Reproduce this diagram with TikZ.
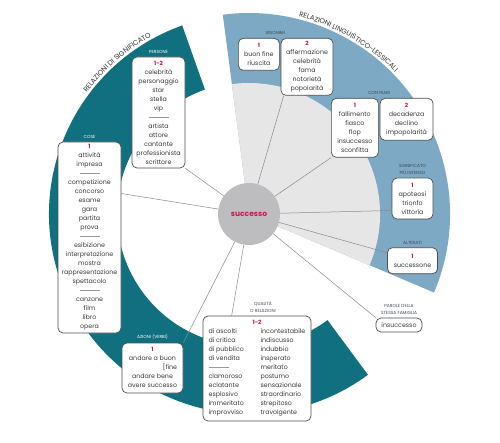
\documentclass[tikz,border=0pt]{standalone}
\usepackage{fontspec}
\setmainfont{Poppins}
\usepackage{xcolor}
\usepackage{tikz}
\usetikzlibrary{positioning,calc,backgrounds,decorations.text}

\definecolor{ringteal}{HTML}{11707F}
\definecolor{ringblue}{HTML}{7DA9C4}
\definecolor{wedgegray}{HTML}{E6E6E7}
\definecolor{hubgray}{HTML}{BDBDC0}
\definecolor{numred}{HTML}{C8194B}
\definecolor{inkgray}{HTML}{3A3A3A}
\definecolor{boxgray}{HTML}{4E4E4E}
\definecolor{lblink}{HTML}{3C4957}
\definecolor{linkgray}{HTML}{8A8A8A}
\definecolor{rulegray}{HTML}{9A9A9A}
\definecolor{titleink}{HTML}{333333}

\newcommand{\itemsize}{\fontsize{6.3}{9}\selectfont}
\newcommand{\lblsize}{\fontsize{4.4}{6.8}\selectfont}
\newcommand{\titlesize}{\fontsize{7}{8}\selectfont}
\newcommand{\nr}[1]{{\color{numred}\bfseries\fontsize{5.8}{9}\selectfont #1}}
\newcommand{\sepline}{\raisebox{2.2pt}{\color{rulegray}\rule{20pt}{0.4pt}}}

\begin{document}
\begin{tikzpicture}[
        x=1pt, y=1pt,
        box/.style={
            draw=boxgray,
            line width=0.7pt,
            rounded corners=5pt,
            fill=white,
            text=inkgray,
            font=\itemsize,
            align=center,
            inner sep=2pt
        },
        lbl/.style={font=\lblsize, text=lblink, align=center, inner sep=1pt},
        lblw/.style={lbl, text=white},
        link/.style={draw=linkgray, line width=0.5pt}
    ]

    \useasboundingbox (0,0) rectangle (500,442);
    \coordinate (c) at (249,228);

    % rings
    \begin{scope}[on background layer]
        \fill[white] (0,0) rectangle (500,442);
        \fill[ringblue] (c) -- ($(c)+(-23:201pt)$) arc[start angle=-23, end angle=97.5, radius=201pt] -- cycle;
        \fill[wedgegray] (c) -- ($(c)+(-23:131pt)$) arc[start angle=-23, end angle=97.5, radius=131pt] -- cycle;
        \fill[ringteal] ($(c)+(109.5:200pt)$) arc[start angle=109.5, end angle=306.5, radius=200pt]
            -- ($(c)+(306.5:132pt)$) arc[start angle=306.5, end angle=109.5, radius=132pt] -- cycle;
    \end{scope}

    \path[decorate, decoration={text along path, text align=center,
        text={|\titlesize\color{titleink}|RELAZIONI DI SIGNIFICATO}}]
        ($(c)+(162:202.5pt)$) arc[start angle=162, end angle=100, radius=202.5pt];
    \path[decorate, decoration={text along path, text align=center,
        text={|\titlesize\color{titleink}|RELAZIONI LINGUISTICO-LESSICALI}}]
        ($(c)+(91:203.5pt)$) arc[start angle=91, end angle=29, radius=203.5pt];

    \node[circle, fill=hubgray, minimum size=62pt, inner sep=0pt,
          font=\bfseries\fontsize{7.5}{9}\selectfont, text=numred] (succ) at (c) {successo};

    % relazioni di significato
    \node[box, minimum width=53pt, minimum height=111pt,
          label={[lblw, label distance=2pt]above:PERSONE}] (persone) at (158.5,329.5)
        {\nr{1-2}\\celebrità\\personaggio\\star\\stella\\vip\\\sepline\\artista\\attore\\cantante\\professionista\\scrittore};
    \node[box, minimum width=63pt, minimum height=191pt,
          label={[lblw, label distance=2pt]above:COSE}] (cose) at (89.5,204.5)
        {\nr{1}\\attività\\impresa\\\sepline\\competizione\\concorso\\esame\\gara\\partita\\prova\\\sepline\\esibizione\\interpretazione\\mostra\\rappresentazione\\spettacolo\\\sepline\\canzone\\film\\libro\\opera};
    \node[box, minimum width=61pt, minimum height=50pt,
          label={[lblw, label distance=2pt]above:AZIONI (VERBI)}] (azioni) at (152.5,74)
        {\begin{tabular}{@{}c@{}}\nr{1}\\andare a buon\\\multicolumn{1}{@{}r@{}}{[fine}\\andare bene\\avere successo\end{tabular}};
    \node[box, minimum width=108pt, minimum height=105pt,
          label={[lbl, label distance=2pt, xshift=6pt]above:QUALITÀ\\O RELAZIONI}] (qual) at (257,73.5)
        {\nr{1-2}\\\begin{tabular}[t]{@{}p{52pt}@{}l@{}}
            di ascolti & incontestabile\\
            di critica & indiscusso\\
            di pubblico & indubbio\\
            di vendita & insperato\\
            \sepline & meritato\\
            clamoroso & postumo\\
            eclatante & sensazionale\\
            esplosivo & straordinario\\
            immeritato & strepitoso\\
            improvviso & travolgente
        \end{tabular}};

    % relazioni linguistico-lessicali
    \node[box, minimum width=41pt, minimum height=32pt, anchor=north west] (sin1) at (238,404)
        {\nr{1}\\buon fine\\riuscita};
    \node[box, minimum width=52pt, minimum height=57pt, right=1pt of sin1.north east, anchor=north west] (sin2)
        {\nr{2}\\affermazione\\celebrità\\fama\\notorietà\\popolarità};
    \node[lbl, above=2.5pt of $(sin1.north east)!0.5!(sin2.north west)$, xshift=-5pt] (sinlbl) {SINONIMI};

    \node[box, minimum width=47pt, minimum height=59pt, anchor=north west] (con1) at (331,344)
        {\nr{1}\\fallimento\\fiasco\\flop\\insuccesso\\sconfitta};
    \node[box, minimum width=53pt, minimum height=42pt, right=1pt of con1.north east, anchor=north west] (con2)
        {\nr{2}\\decadenza\\declino\\impopolarità};
    \node[lbl, above=2.5pt of $(con1.north east)!0.5!(con2.north west)$] (conlbl) {CONTRARI};

    \node[box, minimum width=41pt, minimum height=41pt,
          label={[lbl, label distance=2pt]above:SIGNIFICATO\\PIÙ INTENSO}] (sig) at (412.5,243.5)
        {\nr{1}\\apoteosi\\trionfo\\vittoria};
    \node[box, minimum width=50pt, minimum height=26pt, below=28pt of sig,
          label={[lbl, label distance=2pt]above:ALTERATI}] (alt)
        {\nr{1}\\successone};
    \node[box, minimum width=46pt, minimum height=14pt,
          label={[lbl, label distance=2pt]above:PAROLE DELLA\\STESSA FAMIGLIA}] (par) at (399,117)
        {insuccesso};

    % connectors
    \begin{scope}[on background layer]
        \draw[link] (succ) -- (persone.south east);
        \draw[link] (succ) -- ([yshift=44pt]cose.east);
        \draw[link] (succ) -- (azioni.north east);
        \draw[link] (succ) -- ([xshift=29pt]qual.north west);
        \draw[link] (succ) -- ([xshift=3pt]sin2.south west);
        \draw[link] (succ) -- (con1.south west);
        \draw[link] (succ) -- ([yshift=-12pt]sig.west);
        \draw[link] (succ) -- ([yshift=8pt]alt.west);
        \draw[link] (succ) -- (par.north west);
    \end{scope}

\end{tikzpicture}
\end{document}
